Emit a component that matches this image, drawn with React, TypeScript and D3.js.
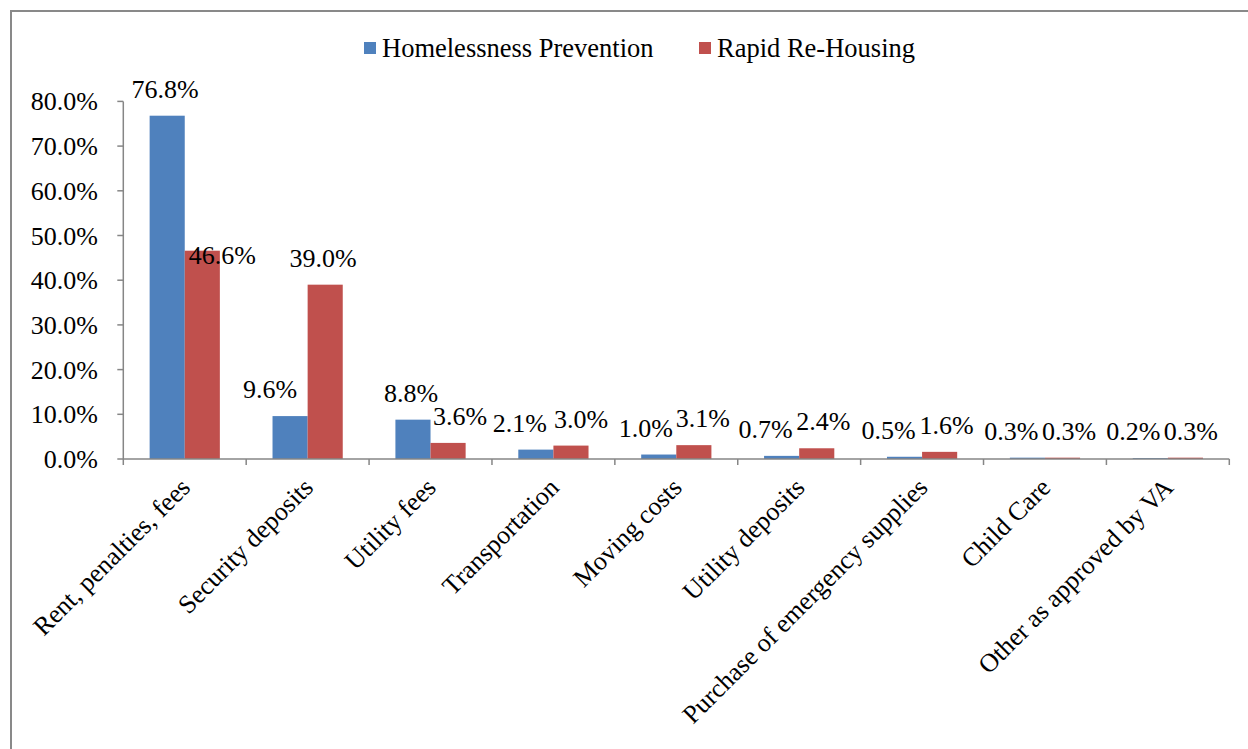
import React from "react";
import * as d3 from "d3";

const categories = [
  "Rent, penalties, fees",
  "Security deposits",
  "Utility fees",
  "Transportation",
  "Moving costs",
  "Utility deposits",
  "Purchase of emergency supplies",
  "Child Care",
  "Other as approved by VA",
];
const seriesNames = ["Homelessness Prevention", "Rapid Re-Housing"];
const homelessnessPrevention = [76.8, 9.6, 8.8, 2.1, 1.0, 0.7, 0.5, 0.3, 0.2];
const rapidReHousing = [46.6, 39.0, 3.6, 3.0, 3.1, 2.4, 1.6, 0.3, 0.3];
const yTicks = [0, 10, 20, 30, 40, 50, 60, 70, 80];

// manual label nudges (as in the source chart)
const hpLabelShift = [[-2, 0], [-20, 0], [-2, 0], [-16, 0], [-13, 0], [-16, 0], [-16, 0], [-16, 0], [-17, 0]];
const rrLabelShift = [[20, 31], [-2, 0], [12, 0], [10, 0], [9, 0], [6.5, 0], [7, 0], [6.5, 0], [5.5, 0]];

const W = 1248;
const H = 749;
const FONT = "'Liberation Serif', 'Times New Roman', serif";
const FS = 26;
const colors = ["#4F81BD", "#C0504D"];
const axisColor = "#868686";

export default function App() {
  const left = 123.3;
  const right = 1229.3;
  const x0 = d3.scaleBand<string>().domain(categories).range([left, right]).paddingInner(0).paddingOuter(0);
  const x1 = d3.scaleBand<string>().domain(seriesNames).range([0, x0.bandwidth()]).paddingInner(0).paddingOuter(0.75);
  const y = d3.scaleLinear().domain([0, 80]).range([459, 101.4]);
  const seriesValues = [homelessnessPrevention, rapidReHousing];
  const shifts = [hpLabelShift, rrLabelShift];
  const fmt = (v: number) => d3.format(".1f")(v) + "%";

  const boundaries = categories.map((c) => x0(c)!).concat([right]);

  return (
    <div style={{ position: "absolute", left: 0, top: 0 }}>
      <svg width={W} height={H} style={{ display: "block", background: "#fff" }}>
        <rect x={11} y={11} width={W + 20} height={H + 20} fill="#fff" stroke="#898989" strokeWidth={2} />

        {/* legend */}
        {seriesNames.map((s, i) => {
          const lx = i === 0 ? 364 : 699;
          return (
            <g key={s}>
              <rect x={lx} y={42} width={12} height={12} fill={colors[i]} />
              <text x={lx + 18} y={57} fontFamily={FONT} fontSize={26.5} fill="#000">{s}</text>
            </g>
          );
        })}

        {/* y axis */}
        <line x1={left} x2={left} y1={y(80)} y2={y(0)} stroke={axisColor} strokeWidth={1.5} />
        {yTicks.map((t) => (
          <g key={t}>
            <line x1={left - 6} x2={left} y1={y(t)} y2={y(t)} stroke={axisColor} strokeWidth={1.5} />
            <text x={98} y={y(t) + 9} fontFamily={FONT} fontSize={FS} textAnchor="end" fill="#000">{fmt(t)}</text>
          </g>
        ))}

        {/* bars */}
        {categories.map((c, ci) => (
          <g key={c}>
            {seriesNames.map((s, si) => {
              const v = seriesValues[si][ci];
              const bx = x0(c)! + x1(s)!;
              return (
                <rect key={s} x={bx} y={y(v)} width={x1.bandwidth()} height={y(0) - y(v)} fill={colors[si]} />
              );
            })}
          </g>
        ))}

        {/* x axis */}
        <line x1={left} x2={right} y1={y(0)} y2={y(0)} stroke={axisColor} strokeWidth={1.5} />
        {boundaries.map((b, i) => (
          <line key={i} x1={b} x2={b} y1={y(0)} y2={y(0) + 6} stroke={axisColor} strokeWidth={1.5} />
        ))}

        {/* data labels */}
        {categories.map((c, ci) => (
          <g key={c}>
            {seriesNames.map((s, si) => {
              const v = seriesValues[si][ci];
              const cx = x0(c)! + x1(s)! + x1.bandwidth() / 2 + shifts[si][ci][0];
              const by = y(v) - 18 + shifts[si][ci][1];
              return (
                <text key={s} x={cx} y={by} fontFamily={FONT} fontSize={FS} textAnchor="middle" fill="#000">{fmt(v)}</text>
              );
            })}
          </g>
        ))}

        {/* category labels */}
        {categories.map((c) => {
          const cx = x0(c)! + x0.bandwidth() / 2;
          return (
            <g key={c} transform={`translate(${cx + 7},${489}) rotate(-45)`}>
              <text fontFamily={FONT} fontSize={FS} textAnchor="end" fill="#000">{c}</text>
            </g>
          );
        })}
      </svg>
    </div>
  );
}
